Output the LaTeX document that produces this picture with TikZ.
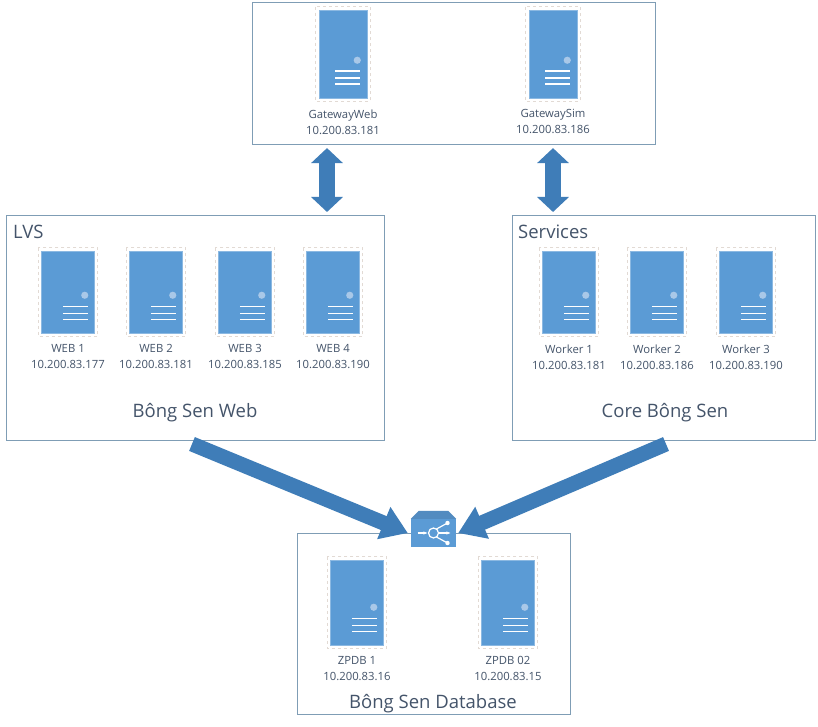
\documentclass[tikz,border=0pt]{standalone}
\usepackage{fontspec}
\setmainfont{Open Sans}
\usepackage{xcolor}
\usetikzlibrary{positioning,calc}
\usetikzlibrary{arrows.meta}
\definecolor{srvblue}{HTML}{5B9BD5}
\definecolor{srvdot}{HTML}{A9C8E8}
\definecolor{srvdash}{HTML}{E2DAD4}
\definecolor{boxline}{HTML}{7F9DB5}
\definecolor{arrowblue}{HTML}{3F7DB8}
\definecolor{labeltext}{HTML}{44546A}
\tikzset{
  groupbox/.style={draw=boxline, line width=1.1pt, fill=white, anchor=north west, inner sep=0pt},
  srvbody/.style={fill=srvblue, draw=srvblue!70!white, line width=0.5pt, inner sep=0pt, minimum width=#1},
  srvframe/.style={draw=srvdash, dashed, line width=1.1pt},
  srvlabel/.style={text=labeltext, font=\fontsize{11.3}{16}\selectfont, align=center, inner sep=0pt},
  grouptitle/.style={text=labeltext, font=\fontsize{18.5}{20}\selectfont, inner sep=0pt},
  updown/.style={draw=arrowblue, line width=16pt, {Triangle[width=31pt,length=15pt]}-{Triangle[width=31pt,length=15pt]}, shorten >=3pt, shorten <=3pt},
  bigarrow/.style={draw=arrowblue, line width=15pt, -{Triangle[width=33pt,length=26pt]}}
}
% #1 name, #2 centre x, #3 top y, #4 body width, #5 body height, #6 label
\newcommand{\server}[6]{
  \node[srvbody=#4pt, minimum height=#5pt] (#1) at (#2, #3+#5/2) {};
  \draw[srvframe] ($(#1.north west)+(-3,-3)$) rectangle ($(#1.south east)+(3,3)$);
  \fill[srvdot] ($(#1.south east)+(-10,-38)$) circle (3.6pt);
  \foreach \dy in {27,20,14} {
    \draw[white, line width=1.5pt] ($(#1.south east)+(-32,-\dy)$) -- ($(#1.south east)+(-7,-\dy)$);
  }
  \node[srvlabel, below=11pt of #1] (#1-label) {#6};
}
\begin{document}
\begin{tikzpicture}[x=1pt,y=-1pt]
  \useasboundingbox (0,0) rectangle (818,727);
  \fill[white] (0,0) rectangle (818,727);

  \node[groupbox, minimum width=403pt, minimum height=142pt] (gateway) at (252,2) {};
  \node[groupbox, minimum width=378pt, minimum height=225pt] (lvs) at (6,215) {};
  \node[groupbox, minimum width=303pt, minimum height=225pt] (services) at (512,215) {};
  \node[groupbox, minimum width=273pt, minimum height=181pt] (database) at (297,533) {};

  \server{gwweb}{343}{10}{48}{88}{GatewayWeb\\10.200.83.181}
  \server{gwsim}{553}{10}{48}{88}{GatewaySim\\10.200.83.186}

  \server{web1}{68}{251}{53}{82}{WEB 1\\10.200.83.177}
  \server{web2}{156}{251}{53}{82}{WEB 2\\10.200.83.181}
  \server{web3}{245}{251}{53}{82}{WEB 3\\10.200.83.185}
  \server{web4}{333}{251}{53}{82}{WEB 4\\10.200.83.190}

  \server{worker1}{569}{251}{53}{82}{Worker 1\\10.200.83.181}
  \server{worker2}{657}{251}{53}{82}{Worker 2\\10.200.83.186}
  \server{worker3}{746}{251}{53}{82}{Worker 3\\10.200.83.190}

  \server{zpdb1}{357}{560}{53}{85}{ZPDB 1\\10.200.83.16}
  \server{zpdb2}{508}{560}{53}{85}{ZPDB 02\\10.200.83.15}

  \node[grouptitle, anchor=west] (lvstitle) at (13,232) {LVS};
  \node[grouptitle, anchor=west] (servicestitle) at (518,232) {Services};
  \node[grouptitle] (webtitle) at (195,413) {Bông Sen Web};
  \node[grouptitle] (coretitle) at (665,413) {Core Bông Sen};
  \node[grouptitle] (dbtitle) at (433,704) {Bông Sen Database};

  \node[fill=srvblue, inner sep=0pt, minimum width=45pt, minimum height=28pt] (router) at (433.5,533) {};
  \fill[srvblue!90!black] (router.north west) -- ++(8,-8) -- ($(router.north east)+(-8,-8)$) -- (router.north east) -- cycle;
  \draw[white, line width=1.2pt] (router.center) circle (5pt);
  \draw[white, line width=1.2pt, -{Stealth[length=4pt]}] ($(router.center)+(-16,0)$) -- ($(router.center)+(-6,0)$);
  \draw[white, line width=1.2pt, -{Stealth[length=4pt]}] ($(router.center)+(5,0)$) -- ($(router.center)+(17,0)$);
  \draw[white, line width=1.2pt] ($(router.center)+(3,-4)$) -- ($(router.center)+(14,-10)$);
  \draw[white, line width=1.2pt] ($(router.center)+(3,4)$) -- ($(router.center)+(14,10)$);
  \fill[white] ($(router.center)+(14,-10)$) circle (2.2pt) ($(router.center)+(14,10)$) circle (2.2pt);

  \coordinate (linkweb) at (327,180);
  \coordinate (linksim) at (553,180);
  \draw[updown] (gateway.south -| linkweb) -- (lvs.north -| linkweb);
  \draw[updown] (gateway.south -| linksim) -- (services.north -| linksim);
  \coordinate (lvsout) at (192,444);
  \coordinate (coreout) at (666,444);
  \draw[bigarrow] (lvsout) -- ([xshift=-3pt]router.west);
  \draw[bigarrow] (coreout) -- ([xshift=2pt]router.east);
\end{tikzpicture}
\end{document}
